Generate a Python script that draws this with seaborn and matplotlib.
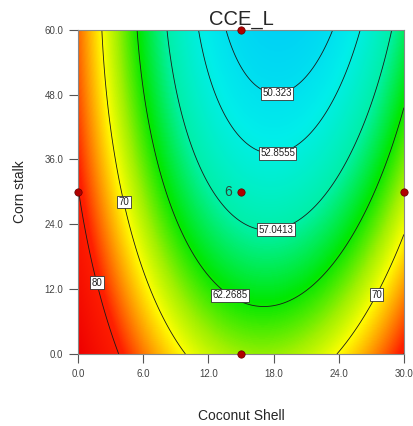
import numpy as np
import pandas as pd
import matplotlib
matplotlib.use("Agg")
import matplotlib.pyplot as plt
from matplotlib.colors import LinearSegmentedColormap
import seaborn as sns

# Response on a coarse grid (rows: corn stalk, cols: coconut shell)
coconut = [0, 6, 12, 18, 24, 30]
corn = [0, 12, 24, 36, 48, 60]
cce_grid = [
    [89.1, 75.6, 68.0, 66.2, 70.2, 80.0],
    [84.9, 71.1, 63.2, 61.0, 64.7, 74.3],
    [81.6, 67.4, 59.2, 56.7, 60.1, 69.3],
    [79.0, 64.5, 55.9, 53.1, 56.2, 65.1],
    [77.2, 62.4, 53.5, 50.4, 53.1, 61.6],
    [76.2, 61.1, 51.8, 48.4, 50.8, 59.0],
]

contour_levels = [50.323, 52.8555, 57.0413, 62.2685, 70, 80]
contour_texts = ["50.323", "52.8555", "57.0413", "62.2685", "70", "80"]

# design points
design_x = [0, 15, 15, 30, 15]
design_y = [30, 0, 60, 30, 30]

xticks = [0, 6, 12, 18, 24, 30]
yticks = [0, 12, 24, 36, 48, 60]

sns.set_theme(style="ticks")
plt.rcParams['font.family'] = ['Liberation Sans', 'DejaVu Sans']

# quadratic response surface fitted to the grid
gx, gy = np.meshgrid(coconut, corn)
gz = np.array(cce_grid)
A = np.column_stack([np.ones(gx.size), gx.ravel(), gy.ravel(),
                     gx.ravel()**2, gy.ravel()**2, (gx*gy).ravel()])
coef, *_ = np.linalg.lstsq(A, gz.ravel(), rcond=None)

fx, fy = np.meshgrid(np.linspace(0, 30, 301), np.linspace(0, 60, 301))
fz = (coef[0] + coef[1]*fx + coef[2]*fy + coef[3]*fx**2
      + coef[4]*fy**2 + coef[5]*fx*fy)

cmap = LinearSegmentedColormap.from_list("de", [
    (0.00, "#00D0F6"),
    (0.10, "#00EEEA"),
    (0.22, "#00F0A8"),
    (0.34, "#00E800"),
    (0.45, "#A0F000"),
    (0.54, "#FFFF00"),
    (0.64, "#FF9A00"),
    (0.76, "#FF2000"),
    (1.00, "#EE0000"),
])

fig = plt.figure(figsize=(4.13, 4.26), dpi=100)
ax = fig.add_axes([0.189, 0.169, 0.789, 0.761])

ax.imshow(fz, extent=[0, 30, 0, 60], origin="lower", aspect="auto",
          cmap=cmap, vmin=48.0, vmax=89.0, interpolation="bilinear")
cs = ax.contour(fx, fy, fz, levels=contour_levels, colors="#1a1a1a",
                linewidths=0.6)

label_pos = [(18.3, 48.7), (18.3, 38.1), (18.1, 24.4), (14.2, 11.5),
             (3.9, 28.0), (27.0, 11.5), (1.4, 13.0)]
labels = ax.clabel(cs, fmt=dict(zip(contour_levels, contour_texts)),
                   manual=label_pos, inline=False, fontsize=7, colors="#222222")
for t in labels:
    t.set_rotation(0)
    t.set_bbox(dict(boxstyle="square,pad=0.15", facecolor="white",
                    edgecolor="#333333", linewidth=0.6))

pts = pd.DataFrame({"x": design_x, "y": design_y})
sns.scatterplot(data=pts, x="x", y="y", ax=ax, color="#B00000",
                edgecolor="#600000", s=28, linewidth=0.5, clip_on=False,
                zorder=5)
ax.text(14.2, 30, "6", ha="right", va="center", fontsize=10, color="#2a4a3a")

ax.set_xlim(0, 30)
ax.set_ylim(0, 60)
ax.set_xticks(xticks)
ax.set_yticks(yticks)
ax.set_xticklabels([f"{v:.1f}" for v in xticks])
ax.set_yticklabels([f"{v:.1f}" for v in yticks])
ax.tick_params(direction="out", length=6.5, width=0.8, color="#555555",
               labelsize=7, labelcolor="#444444", pad=4)
for sp in ax.spines.values():
    sp.set_color("#888888")
    sp.set_linewidth(0.8)

ax.set_title("CCE_L", fontsize=14.5, pad=4)
ax.set_xlabel("Coconut Shell", fontsize=10, labelpad=22)
ax.set_ylabel("Corn stalk", fontsize=10, labelpad=13)

fig.savefig("out.png", dpi=100)
